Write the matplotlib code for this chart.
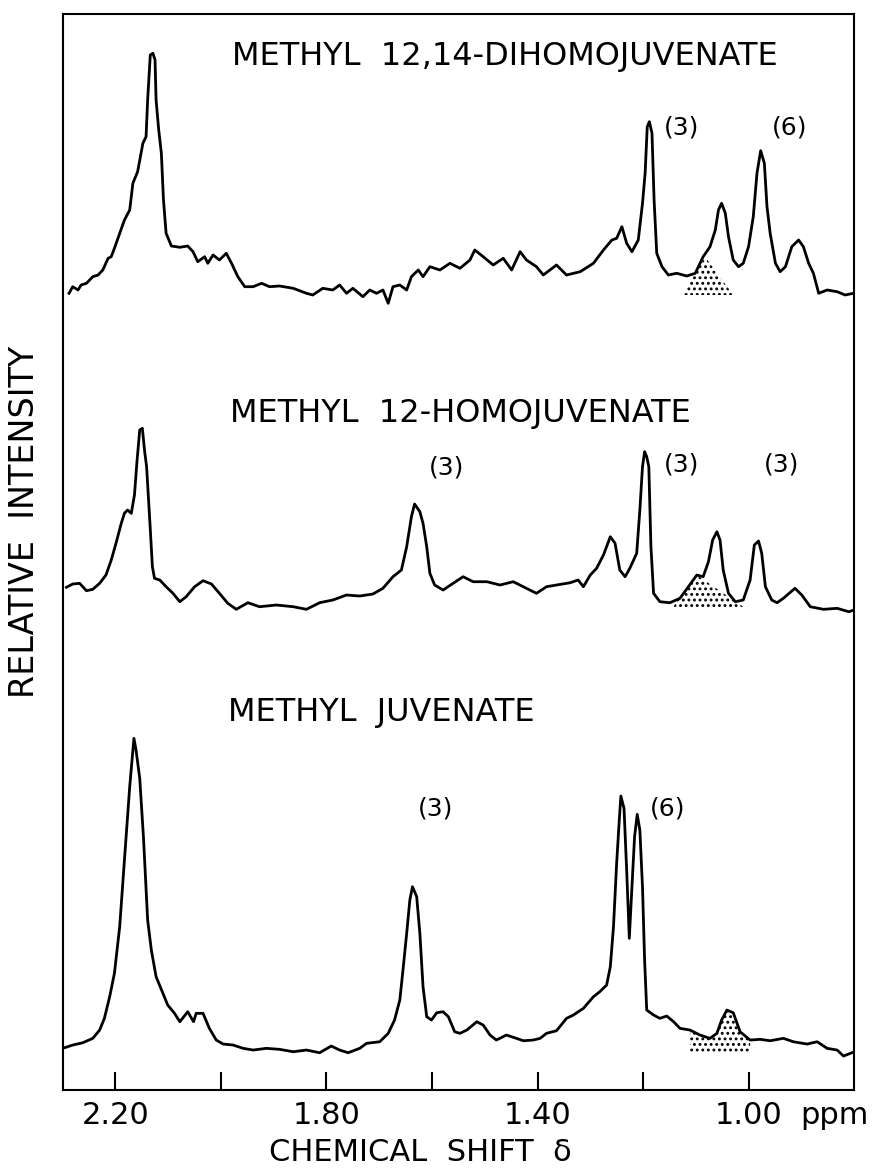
import numpy as np
import matplotlib
matplotlib.use("Agg")
from matplotlib import pyplot as plt

# methyl juvenate (bottom trace), chemical shift in ppm and relative intensity
mj_ppm = [2.300, 2.281, 2.262, 2.243, 2.230, 2.221, 2.211, 2.202, 2.192, 2.183,
          2.173, 2.165, 2.161, 2.154, 2.147, 2.139, 2.132, 2.123, 2.110, 2.101,
          2.088, 2.078, 2.063, 2.052, 2.047, 2.034, 2.022, 2.009, 1.996, 1.977,
          1.958, 1.939, 1.914, 1.889, 1.863, 1.838, 1.813, 1.791, 1.775, 1.759,
          1.737, 1.724, 1.699, 1.683, 1.671, 1.661, 1.655, 1.648, 1.642, 1.637,
          1.629, 1.623, 1.617, 1.610, 1.601, 1.591, 1.579, 1.569, 1.557, 1.547,
          1.534, 1.515, 1.503, 1.490, 1.478, 1.459, 1.440, 1.427, 1.408, 1.395,
          1.383, 1.364, 1.345, 1.332, 1.313, 1.294, 1.282, 1.269, 1.262, 1.256,
          1.250, 1.245, 1.242, 1.236, 1.231, 1.226, 1.221, 1.216, 1.211, 1.206,
          1.201, 1.197, 1.193, 1.180, 1.168, 1.155, 1.142, 1.130, 1.111, 1.092,
          1.073, 1.060, 1.051, 1.041, 1.029, 1.016, 0.997, 0.978, 0.959, 0.934,
          0.915, 0.889, 0.870, 0.851, 0.832, 0.820, 0.807, 0.799]
mj_int = [0.17, 0.5, 0.73, 1.17, 2.0, 3.17, 5.33, 7.67, 12.33, 19.0,
          26.33, 31.17, 30.0, 27.17, 21.33, 13.0, 10.0, 7.33, 5.67, 4.5,
          3.67, 2.83, 3.83, 2.83, 3.67, 3.67, 2.17, 1.0, 0.6, 0.5,
          0.17, 0.0, 0.17, 0.07, -0.17, 0.0, -0.27, 0.4, 0.0, -0.27,
          0.17, 0.67, 0.83, 1.67, 3.0, 5.0, 8.0, 11.67, 15.0, 16.33,
          15.33, 11.67, 6.33, 3.33, 3.0, 3.73, 3.83, 3.33, 1.83, 1.67,
          2.0, 2.83, 2.5, 1.5, 1.0, 1.5, 1.17, 0.93, 1.0, 1.17,
          1.67, 1.93, 3.17, 3.5, 4.17, 5.33, 5.83, 6.5, 8.33, 12.33,
          18.67, 23.0, 25.4, 24.17, 18.0, 11.17, 16.33, 21.33, 23.57, 22.0,
          16.33, 9.0, 4.0, 3.5, 3.17, 3.4, 2.83, 2.17, 2.0, 1.5,
          1.17, 1.67, 3.0, 4.0, 3.73, 1.83, 1.0, 1.07, 0.93, 1.17,
          0.83, 0.6, 0.83, 0.17, 0.0, -0.6, -0.33, -0.17]

# methyl 12-homojuvenate (middle trace)
mh_ppm = [2.293, 2.281, 2.268, 2.255, 2.243, 2.230, 2.218, 2.208, 2.199, 2.189,
          2.183, 2.177, 2.170, 2.164, 2.159, 2.154, 2.149, 2.145, 2.141, 2.135,
          2.130, 2.126, 2.116, 2.104, 2.091, 2.078, 2.066, 2.050, 2.034, 2.018,
          2.003, 1.987, 1.971, 1.949, 1.927, 1.895, 1.863, 1.838, 1.813, 1.788,
          1.762, 1.737, 1.712, 1.693, 1.674, 1.658, 1.648, 1.639, 1.633, 1.623,
          1.617, 1.610, 1.604, 1.595, 1.579, 1.560, 1.541, 1.522, 1.496, 1.471,
          1.446, 1.421, 1.402, 1.383, 1.364, 1.338, 1.323, 1.313, 1.300, 1.288,
          1.275, 1.262, 1.253, 1.244, 1.234, 1.225, 1.212, 1.206, 1.201, 1.197,
          1.193, 1.189, 1.185, 1.180, 1.168, 1.149, 1.130, 1.114, 1.098, 1.086,
          1.076, 1.068, 1.060, 1.054, 1.048, 1.038, 1.025, 1.010, 0.997, 0.989,
          0.981, 0.975, 0.968, 0.956, 0.946, 0.934, 0.912, 0.899, 0.883, 0.858,
          0.832, 0.810, 0.800]
mh_int = [2.27, 2.6, 2.67, 1.93, 2.07, 2.67, 3.5, 5.0, 6.67, 8.67,
          9.67, 10.0, 9.67, 11.5, 15.0, 18.0, 18.17, 16.0, 14.33, 9.0,
          4.33, 3.17, 3.0, 2.33, 1.67, 0.83, 1.33, 2.33, 2.93, 2.6,
          1.67, 0.67, 0.07, 0.73, 0.33, 0.5, 0.33, 0.07, 0.73, 1.0,
          1.5, 1.4, 1.6, 2.17, 3.33, 4.0, 6.33, 9.33, 10.6, 9.83,
          8.67, 6.33, 3.67, 2.5, 2.0, 2.67, 3.33, 2.83, 2.83, 2.5,
          2.83, 2.17, 1.67, 2.33, 2.5, 2.73, 3.0, 2.33, 3.5, 4.17,
          5.5, 7.33, 6.67, 4.0, 3.33, 4.17, 5.67, 10.0, 14.33, 15.83,
          15.33, 14.33, 6.33, 1.67, 0.83, 0.73, 1.17, 2.33, 3.5, 3.33,
          4.83, 7.0, 7.83, 7.0, 4.0, 1.67, 0.83, 1.0, 3.0, 6.5,
          6.9, 5.67, 2.33, 1.0, 0.73, 1.17, 2.17, 1.5, 0.33, 0.07,
          0.17, -0.17, 0.0]

# methyl 12,14-dihomojuvenate (top trace)
dh_ppm = [2.288, 2.281, 2.271, 2.265, 2.255, 2.243, 2.233, 2.224, 2.214, 2.208,
          2.202, 2.192, 2.183, 2.173, 2.167, 2.158, 2.148, 2.142, 2.139, 2.134,
          2.129, 2.125, 2.123, 2.118, 2.113, 2.109, 2.104, 2.094, 2.078, 2.063,
          2.053, 2.044, 2.031, 2.025, 2.015, 2.003, 1.990, 1.980, 1.968, 1.955,
          1.939, 1.923, 1.908, 1.889, 1.863, 1.838, 1.826, 1.807, 1.788, 1.775,
          1.762, 1.750, 1.731, 1.718, 1.705, 1.693, 1.683, 1.674, 1.661, 1.648,
          1.639, 1.626, 1.617, 1.604, 1.585, 1.566, 1.547, 1.528, 1.519, 1.503,
          1.484, 1.465, 1.449, 1.433, 1.421, 1.402, 1.389, 1.364, 1.345, 1.319,
          1.294, 1.275, 1.259, 1.250, 1.240, 1.231, 1.221, 1.209, 1.201, 1.196,
          1.192, 1.188, 1.183, 1.179, 1.174, 1.164, 1.152, 1.136, 1.117, 1.101,
          1.086, 1.073, 1.063, 1.057, 1.051, 1.044, 1.038, 1.029, 1.019, 1.010,
          1.000, 0.991, 0.984, 0.977, 0.970, 0.965, 0.959, 0.949, 0.940, 0.930,
          0.918, 0.905, 0.896, 0.886, 0.877, 0.867, 0.851, 0.832, 0.817, 0.801]
dh_int = [-0.33, 0.33, 0.0, 0.5, 0.67, 1.33, 1.5, 2.0, 3.17, 3.33,
          4.17, 5.67, 7.0, 8.0, 10.67, 11.83, 14.67, 15.33, 19.0, 23.5,
          23.67, 23.0, 19.0, 16.0, 13.67, 9.0, 5.67, 4.4, 4.27, 4.4,
          3.83, 2.83, 3.33, 2.67, 3.5, 3.0, 3.67, 2.67, 1.33, 0.33,
          0.33, 0.67, 0.33, 0.4, 0.17, -0.33, -0.5, 0.17, 0.0, 0.5,
          -0.33, 0.17, -0.67, 0.0, -0.33, 0.0, -1.33, 0.33, 0.5, 0.0,
          1.33, 2.0, 1.33, 2.33, 2.0, 2.67, 2.17, 3.0, 4.0, 3.33,
          2.5, 3.17, 2.0, 3.83, 3.0, 2.33, 1.5, 2.5, 1.5, 1.83,
          2.67, 4.0, 5.0, 5.17, 6.33, 4.67, 3.83, 5.0, 8.67, 11.67,
          16.33, 16.83, 15.67, 9.0, 3.67, 2.33, 1.5, 1.67, 1.4, 1.67,
          3.33, 4.33, 6.0, 8.0, 8.67, 7.67, 5.33, 3.0, 2.33, 2.67,
          4.33, 7.33, 11.67, 13.93, 12.67, 8.33, 5.67, 2.67, 1.83, 2.33,
          4.33, 5.0, 4.33, 2.67, 1.67, -0.33, 0.0, -0.17, -0.5, -0.33]

# dotted (shaded) areas
dh_dots_ppm = [1.126, 1.082, 1.029]
dh_dots_int = [-0.5, 3.3, -0.5]
mh_dots_ppm = [1.145, 1.098, 1.006]
mh_dots_int = [0.17, 3.5, 0.17]
mj_dots_range = [1.115, 0.984]
mj_dots_base = -0.3

names = ["METHYL  JUVENATE", "METHYL  12-HOMOJUVENATE", "METHYL  12,14-DIHOMOJUVENATE"]
offsets = [4, 48, 80]

# peak multiplicity labels: (ppm, trace index, text)
peak_ppm = [1.593, 1.154, 1.573, 1.127, 0.938, 1.127, 0.923]
peak_trace = [0, 0, 1, 1, 1, 2, 2]
peak_text = ["(3)", "(6)", "(3)", "(3)", "(3)", "(3)", "(6)"]
peak_height = [24.2, 24.2, 14.3, 14.6, 14.6, 16.2, 16.2]

plt.rcParams["font.family"] = ["DejaVu Sans"]
plt.rcParams["hatch.linewidth"] = 1.3

fig = plt.figure(figsize=(8.82, 11.75), dpi=100)
ax = fig.add_axes([0.0711, 0.0723, 0.8972, 0.9158])

traces = [(mj_ppm, mj_int), (mh_ppm, mh_int), (dh_ppm, dh_int)]
for (x, y), off in zip(traces, offsets):
    ax.plot(x, np.array(y) + off, color="black", lw=2.0, solid_joinstyle="round")

ax.fill(dh_dots_ppm, np.array(dh_dots_int) + offsets[2], facecolor="none",
        edgecolor="black", hatch="...", linewidth=0)
ax.fill(mh_dots_ppm, np.array(mh_dots_int) + offsets[1], facecolor="none",
        edgecolor="black", hatch="...", linewidth=0)
xs = np.array(mj_ppm)
keep = (xs <= mj_dots_range[0]) & (xs >= mj_dots_range[1])
ax.fill_between(xs[keep], mj_dots_base + offsets[0], np.array(mj_int)[keep] + offsets[0],
                facecolor="none", edgecolor="black", hatch="...", linewidth=0)

title_pos = [(1.987, 33.8), (1.983, 19.7), (1.980, 23.3)]
for name, off, (tx, ty) in zip(names, offsets, title_pos):
    ax.text(tx, off + ty, name, fontsize=23, ha="left", va="center")

for px, ti, txt, ph in zip(peak_ppm, peak_trace, peak_text, peak_height):
    ax.text(px, offsets[ti] + ph, txt, fontsize=18, ha="center", va="center")

ax.set_xlim(2.30, 0.80)
ax.set_ylim(0, 107.6)
ax.set_xticks([2.2, 1.8, 1.4, 1.0])
ax.set_xticklabels(["2.20", "1.80", "1.40", "1.00"], fontsize=22)
ax.set_xticks([2.0, 1.6, 1.2], minor=True)
ax.tick_params(axis="x", which="both", direction="in", length=13, width=1.5,
               pad=8, top=False)
ax.set_yticks([])
for s in ax.spines.values():
    s.set_linewidth(1.5)

ax.annotate("ppm", xy=(0.902, 0), xycoords=("data", "axes fraction"),
            xytext=(0, -8), textcoords="offset points", fontsize=22,
            ha="left", va="top")

fig.text(0.477, 0.019, "CHEMICAL  SHIFT  \u03b4", fontsize=22, ha="center", va="center")
fig.text(0.028, 0.556, "RELATIVE  INTENSITY", fontsize=24, rotation=90,
         ha="center", va="center")

fig.savefig("out.png", dpi=100)
